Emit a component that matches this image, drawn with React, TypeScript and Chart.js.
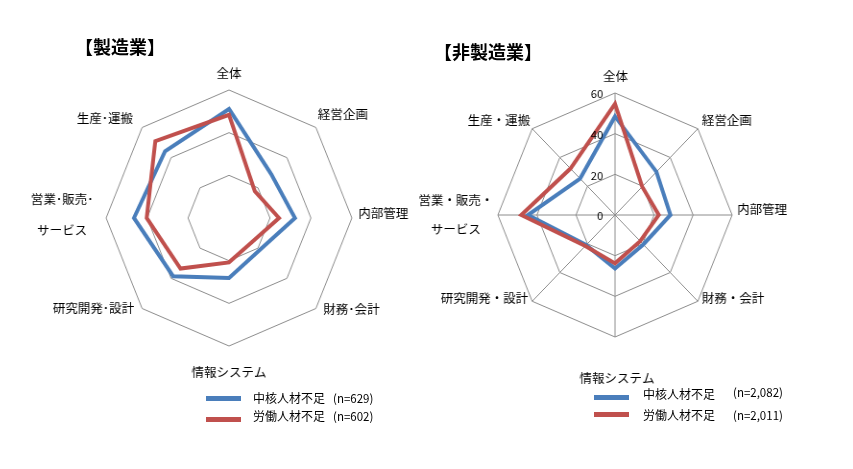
import React, { useEffect, useRef } from 'react';
import { Chart, registerables } from 'chart.js';

Chart.register(...registerables);

// ---------- data ----------
const mfgCategories: (string | string[])[] = ['全体', '経営企画', '内部管理', '財務･会計', '情報システム', '研究開発･設計', ['営業･販売･', 'サービス'], '生産･運搬'];
const nonMfgCategories: (string | string[])[] = ['全体', '経営企画', '内部管理', '財務・会計', '情報システム', '研究開発・設計', ['営業・販売・', 'サービス'], '生産・運搬'];

const mfgCore = [51.1, 29.1, 32.2, 21.2, 28.1, 38.6, 46.4, 44.2];
const mfgLabor = [48.4, 17.8, 24.4, 15.9, 20.8, 33.5, 40.2, 50.9];
const nonMfgCore = [48.5, 30.0, 28.4, 20.5, 26.3, 20.9, 44.6, 25.3];
const nonMfgLabor = [54.7, 19.7, 22.4, 18.2, 23.8, 21.5, 48.0, 32.3];

const axisMin = 0;
const axisMax = 60;
const axisStep = 20;

const seriesNames = ['中核人材不足', '労働人材不足'];
const mfgCounts = ['(n=629)', '(n=602)'];
const nonMfgCounts = ['(n=2,082)', '(n=2,011)'];
const titles = ['【製造業】', '【非製造業】'];

// ---------- styles ----------
const BLUE = '#4a7ebb';
const RED = '#c0504d';
const GRID = '#8c8c8c';
const FONT = '"Noto Sans CJK JP", "Noto Sans", sans-serif';
const SQUEEZE = 0.96;

type LabelCfg = {
  align: CanvasTextAlign[];
  dx: number[];
  dy: number[];
  lineGap: number;
  ticks: boolean;
  tickGap: number;
  tickDy: number;
};

function makeTextPlugin(cfg: LabelCfg) {
  return {
    id: 'radarText',
    afterDraw(chart: any) {
      const scale = chart.scales.r;
      const ctx: CanvasRenderingContext2D = chart.ctx;
      const sx = SQUEEZE;
      const cx = scale.xCenter;
      const cy = scale.yCenter;
      const labels = chart.data.labels as (string | string[])[];
      ctx.save();
      ctx.fillStyle = '#000';
      ctx.font = `12.5px ${FONT}`;
      ctx.textBaseline = 'middle';
      labels.forEach((lab, i) => {
        const p = scale.getPointPosition(i, scale.drawingArea);
        const gx = cx + (p.x - cx) * sx + cfg.dx[i];
        const x = cx + (gx - cx) / sx;
        const y = p.y + cfg.dy[i];
        const lines = Array.isArray(lab) ? lab : [lab];
        ctx.textAlign = cfg.align[i];
        lines.forEach((t, k) => {
          const ly = y + (k - (lines.length - 1) / 2) * cfg.lineGap;
          ctx.save();
          ctx.translate(x, ly);
          ctx.scale(1 / sx, 1);
          ctx.fillText(t, 0, 0);
          ctx.restore();
        });
      });
      if (cfg.ticks) {
        ctx.font = `11px ${FONT}`;
        ctx.textAlign = 'right';
        scale.ticks.forEach((t: any) => {
          const d = scale.getDistanceFromCenterForValue(t.value);
          const x = cx - cfg.tickGap / sx;
          ctx.save();
          ctx.translate(x, cy - d + cfg.tickDy);
          ctx.scale(1 / sx, 1);
          ctx.fillText(String(t.label), 0, 0);
          ctx.restore();
        });
      }
      ctx.restore();
    },
  };
}

function makeConfig(labels: (string | string[])[], core: number[], labor: number[], angleLines: boolean, padding: any, cfg: LabelCfg): any {
  return {
    type: 'radar',
    data: {
      labels,
      datasets: [
        { label: seriesNames[0], data: core, borderColor: BLUE, backgroundColor: BLUE, borderWidth: 4, pointRadius: 0, pointHoverRadius: 0, fill: false, tension: 0, borderJoinStyle: 'miter', order: 2 },
        { label: seriesNames[1], data: labor, borderColor: RED, backgroundColor: RED, borderWidth: 4, pointRadius: 0, pointHoverRadius: 0, fill: false, tension: 0, borderJoinStyle: 'miter', order: 1 },
      ],
    },
    options: {
      responsive: false,
      animation: false,
      layout: { padding },
      plugins: { legend: { display: false }, tooltip: { enabled: false }, title: { display: false } },
      scales: {
        r: {
          min: axisMin,
          max: axisMax,
          ticks: { stepSize: axisStep, display: false },
          pointLabels: { display: false },
          grid: { color: GRID, lineWidth: 1 },
          angleLines: { display: angleLines, color: GRID, lineWidth: 1 },
        },
      },
    },
    plugins: [makeTextPlugin(cfg)],
  };
}

const leftCfg: LabelCfg = {
  align: ['center', 'left', 'left', 'left', 'center', 'right', 'center', 'right'],
  dx: [0, 2, 6.5, 7.5, 0, -8, -44, -9],
  dy: [-17, -13, -5, 1, 26, 0, -3.3, -9],
  lineGap: 30.7,
  ticks: false,
  tickGap: 12,
  tickDy: 1,
};

const rightCfg: LabelCfg = {
  align: ['center', 'left', 'left', 'left', 'center', 'right', 'center', 'right'],
  dx: [0.5, 4, 5, 4, 2, -4, -42, -2],
  dy: [-17, -8, -6, -3.5, 41, -3, 0, -8],
  lineGap: 29.3,
  ticks: true,
  tickGap: 12,
  tickDy: 1,
};

function Txt(props: { x: number; cy: number; size: number; bold?: boolean; children: React.ReactNode }) {
  const { x, cy, size, bold, children } = props;
  return (
    <div
      style={{
        position: 'absolute',
        left: x,
        top: cy - 0.556 * size,
        fontSize: size,
        lineHeight: `${size}px`,
        fontWeight: bold ? 700 : 400,
        whiteSpace: 'nowrap',
        color: '#000',
      }}
    >
      {children}
    </div>
  );
}

function Swatch(props: { x: number; cy: number; color: string }) {
  return <div style={{ position: 'absolute', left: props.x, top: props.cy - 2.5, width: 35, height: 5, background: props.color }} />;
}

export default function App() {
  const leftRef = useRef<HTMLCanvasElement | null>(null);
  const rightRef = useRef<HTMLCanvasElement | null>(null);

  useEffect(() => {
    const charts: Chart[] = [];
    if (leftRef.current) {
      charts.push(new Chart(leftRef.current, makeConfig(mfgCategories, mfgCore, mfgLabor, false, { left: 101, top: 90, right: 73, bottom: 123 }, leftCfg)));
    }
    if (rightRef.current) {
      charts.push(new Chart(rightRef.current, makeConfig(nonMfgCategories, nonMfgCore, nonMfgLabor, true, { left: 93, top: 93, right: 116, bottom: 132 }, rightCfg)));
    }
    return () => charts.forEach((c) => c.destroy());
  }, []);

  return (
    <div style={{ position: 'fixed', left: 0, top: 0, width: 853, height: 469, background: '#fff', fontFamily: FONT, overflow: 'hidden' }}>
      <canvas
        ref={leftRef}
        width={430}
        height={469}
        style={{ position: 'absolute', left: 0, top: 0, width: 430, height: 469, transform: `scaleX(${SQUEEZE})`, transformOrigin: '229px 50%' }}
      />
      <canvas
        ref={rightRef}
        width={453}
        height={469}
        style={{ position: 'absolute', left: 400, top: 0, width: 453, height: 469, transform: `scaleX(${SQUEEZE})`, transformOrigin: '215px 50%' }}
      />
      <Txt x={75} cy={47.5} size={18} bold>{titles[0]}</Txt>
      <Txt x={434} cy={52} size={18} bold>{titles[1]}</Txt>

      <Swatch x={206} cy={398} color={BLUE} />
      <Swatch x={206} cy={419} color={RED} />
      <Txt x={253} cy={399} size={12}>{seriesNames[0]}</Txt>
      <Txt x={333} cy={399} size={11.5}>{mfgCounts[0]}</Txt>
      <Txt x={253} cy={417} size={12}>{seriesNames[1]}</Txt>
      <Txt x={333} cy={417} size={11.5}>{mfgCounts[1]}</Txt>

      <Swatch x={594} cy={397.5} color={BLUE} />
      <Swatch x={594} cy={414.5} color={RED} />
      <Txt x={643} cy={395} size={12}>{seriesNames[0]}</Txt>
      <Txt x={733} cy={393} size={11.5}>{nonMfgCounts[0]}</Txt>
      <Txt x={643} cy={416} size={12}>{seriesNames[1]}</Txt>
      <Txt x={733} cy={416} size={11.5}>{nonMfgCounts[1]}</Txt>
    </div>
  );
}
